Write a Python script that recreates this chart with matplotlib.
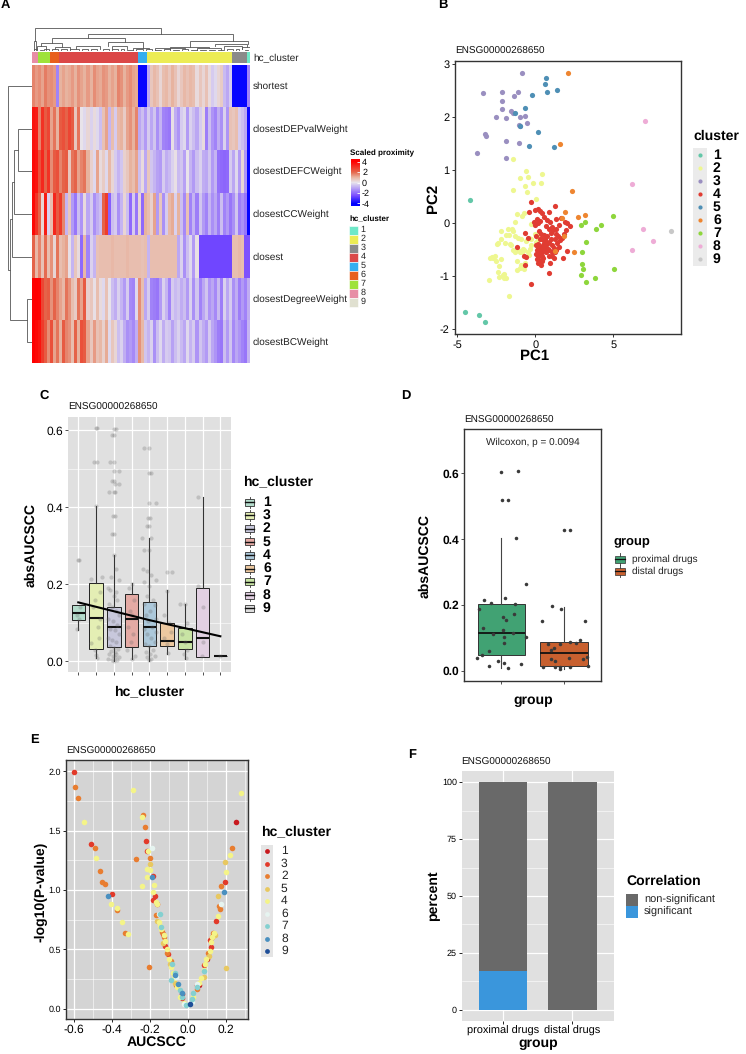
import numpy as np
import matplotlib
matplotlib.use("Agg")
import matplotlib.pyplot as plt
from matplotlib.colors import LinearSegmentedColormap, ListedColormap, Normalize
from matplotlib.cm import ScalarMappable
from matplotlib.patches import Rectangle

plt.rcParams['font.family'] = ['Liberation Sans', 'DejaVu Sans']
plt.rcParams['axes.unicode_minus'] = False
plt.rcParams['text.hinting'] = 'no_hinting'
plt.rcParams['text.hinting_factor'] = 1

W, H = 746, 1054
GENE = "ENSG00000268650"

## Panel A data

row_names = ["shortest", "closestDEPvalWeight", "closestDEFCWeight", "closestCCWeight",
             "closest", "closestDegreeWeight", "closestBCWeight"]

shortest = [1.6,1.3,1.5,1.2,1.7,1.4,1.5,1.3,-1.6,1.0,1.2,1.0,
            1.1,1.3,1.0,1.4,1.2,1.0,1.3,1.0,1.5,1.2,1.1,1.4,
            1.3,1.0,1.2,1.0,1.6,1.4,1.0,1.3,1.5,1.2,1.1,-3.9,
            -3.9,-3.9,-1.0,0.6,0.9,0.7,0.3,0.8,0.9,0.6,1.0,0.7,
            0.3,0.6,0.9,0.7,0.9,0.8,0.2,0.6,0.3,0.7,0.2,-0.4,
            -0.2,0.3,0.5,-0.7,-1.0,-0.4,-3.9,-3.9,-3.9,-3.9,-3.9,-1.6]
closest_dep = [3.6,3.4,1.6,3.0,2.2,2.6,1.2,1.8,1.0,2.2,2.4,2.0,
               2.6,2.2,0.6,1.8,0.0,-0.2,0.3,-0.3,0.2,-0.2,-0.6,0.7,
               1.2,-0.8,0.8,-0.4,0.9,1.0,0.5,1.2,1.4,1.0,1.6,-1.0,
               -0.6,-1.2,-0.4,-1.0,-0.5,-1.4,-0.8,-1.6,-1.7,-1.8,0.1,-0.9,
               -1.3,-0.4,-0.2,-1.2,-0.3,-0.6,-1.0,-0.4,0.2,-1.7,-0.6,-1.3,
               -1.6,-0.9,-1.4,-0.3,-1.3,0.7,0.6,0.8,-0.4,-0.6,-1.0,-3.8]
closest_defc = [3.8,3.6,2.4,3.2,2.0,3.0,1.5,2.2,2.4,1.6,2.0,2.2,
                0.6,1.8,2.0,1.2,1.6,1.8,1.0,0.4,-0.2,1.2,0.2,0.5,
                -0.2,0.9,0.3,-0.4,-0.8,-0.5,0.4,0.6,1.0,0.8,1.2,-0.6,
                0.2,-1.0,0.6,-0.5,-0.8,-1.1,-1.2,-0.4,-0.9,-0.7,-0.3,0.1,
                -0.7,-0.5,-1.1,0.0,-0.8,-1.2,-0.6,-0.3,-0.9,-1.0,-0.5,-1.2,
                -0.8,-1.9,-2.0,-2.1,-2.0,-0.4,-1.0,-0.2,-1.2,0.3,-1.3,-3.9]
closest_cc = [3.8,3.0,2.0,0.3,3.4,-0.3,0.8,3.2,2.2,2.8,1.6,-0.8,
              0.6,-1.2,-1.8,-0.6,-1.3,0.2,-1.0,-0.4,-1.4,-0.9,-0.6,2.0,
              2.8,-2.2,-0.6,-0.4,-1.4,-0.8,0.3,-0.6,-2.0,-0.4,-1.8,0.3,
              -2.0,1.0,0.8,0.4,1.2,-1.2,0.6,-1.4,-0.4,0.9,1.1,-0.3,
              1.0,-0.6,-1.5,0.7,-1.6,-0.8,-1.7,-0.5,-1.2,-1.6,-0.8,-1.4,
              -1.0,-1.7,-0.6,-1.6,-1.2,-1.8,-1.4,-0.5,-1.7,-1.4,-1.8,-3.9]
closest_all = [2.0,0.9,1.6,0.7,1.9,0.8,1.4,0.3,1.8,0.8,1.0,1.2,
               0.1,-0.8,0.6,0.2,-2.0,0.9,-1.6,-0.3,-0.8,0.7,0.8,0.8,
               0.8,0.8,0.9,0.8,0.8,0.8,0.8,0.9,0.8,0.8,0.8,0.8,
               0.7,0.8,-0.8,0.8,0.8,0.8,0.8,0.8,0.8,0.8,0.8,0.8,
               -1.0,-0.3,-1.4,-0.6,-0.2,-1.2,0.1,-2.6,-2.6,-2.6,-2.6,-2.6,
               -2.6,-2.6,-2.6,-2.6,-2.6,-2.6,0.8,0.8,0.9,0.8,-2.4,-2.4]
closest_degree = [4.0,4.0,3.9,2.6,2.0,2.2,1.4,2.0,1.6,1.2,0.9,1.8,
                  1.4,0.8,0.5,1.8,1.2,2.2,0.4,0.6,0.1,0.8,0.2,-0.2,
                  0.7,0.0,-0.6,-0.9,-0.3,-0.8,-1.2,-0.4,-1.5,-1.6,-0.2,1.5,
                  0.8,-1.0,-0.4,-1.6,-1.7,-1.8,-1.2,-0.3,-0.8,-1.6,-0.4,-0.7,
                  -0.5,-0.9,-0.6,-1.2,-0.3,-1.4,-0.5,-1.6,-1.0,-0.5,-1.3,-1.0,
                  -1.5,-0.7,-1.7,-0.3,-1.0,-0.4,-1.4,-0.9,-1.7,-1.2,-1.6,-0.9]
closest_bc = [4.0,3.8,3.6,2.8,2.2,1.5,2.4,1.2,1.8,1.0,2.2,1.6,
              1.4,0.8,2.0,1.0,2.4,2.2,1.2,0.6,1.3,0.7,0.9,0.4,
              1.1,-0.2,0.6,0.3,-0.6,-0.3,-0.9,-1.4,-1.2,-1.5,-0.9,1.4,
              0.9,-0.5,-0.8,-0.3,-1.4,-0.6,-0.2,-0.9,-0.4,-0.5,-1.1,-0.6,
              -0.3,-0.7,-1.0,-0.2,-0.8,-0.4,-1.3,-0.5,-0.9,-1.2,-0.4,-1.0,
              -1.3,-1.7,-1.8,-0.6,-1.2,-0.5,-1.5,-1.0,-1.3,-1.6,-1.8,-0.8]

column_cluster = [8]*2 + [7]*4 + [6]*3 + [4]*26 + [5]*3 + [2]*28 + [3]*5 + [1]
annot_colors = ["#6fe8c8", "#ecec54", "#8a8a8a", "#db4848", "#35aef0",
                "#e8601c", "#9ee23a", "#e78ea5", "#e0e0d0"]

# left, right, height, height of left child, height of right child
top_links = [(0.4,42.1,72,30,52),(18.1,66,52,40,30),(6,30.2,40,25,28),(2.5,9.5,25,14,12),
             (24.5,36.2,28,14,10),(51.7,71,30,12,22),(60,70.5,22,14,12),(45,58,12,7,8),
             (0,0.8,30,0,0),(1,4,14,5,4),(7,12,12,6,7),(14,22,14,7,6),(26,31,14,6,5),
             (33,38,10,4,5),(40,50,9,4,5),(54,62,8,4,4),(63,69,14,5,6),(69,71.5,12,5,4),
             (0.2,1.2,5,0,0),(2,3,4,0,0),(3.5,5,5,0,0),(6,8,6,0,0),(9,11,7,0,0),
             (12,15,7,0,0),(16,18,6,0,0),(19,21,5,0,0),(23,25,6,0,0),(26,28,6,0,0),
             (29,30,5,0,0),(31,33,4,0,0),(34,36,5,0,0),(37,39,5,0,0),(40,42,4,0,0),
             (43,45,5,0,0),(46,48,4,0,0),(49,51,5,0,0),(52,54,4,0,0),(55,57,4,0,0),
             (58,60,4,0,0),(61,63,4,0,0),(64,66,5,0,0),(67,68,6,0,0),(70,71,4,0,0)]
left_links = [(1,2,41,0,0),(1.5,3,53,41,0),(2.25,4,60,53,0),(5,6,16,0,0),
              (3.125,5.5,64,60,16),(0,4.31,70,0,64)]

## Panel B data

b_colors = ["#63c7a8", "#eef790", "#9a8fc0", "#e03c32", "#4e8fb5",
            "#ee8530", "#8ed63c", "#eeacd6", "#c8c8c8"]
pc_1 = [(-4.2,0.43),(-4.5,-1.67),(-3.6,-1.74),(-3.2,-1.86)]
pc_2 = [(-1.4,1.22),(-0.6,0.98),(-1.0,0.85),(-0.5,0.87),(0.45,0.92),(-0.65,0.7),(-0.15,0.76),
        (0.37,0.75),(-1.45,0.62),(-0.55,0.59),(0.02,0.45),(-0.85,0.14),(-1.2,0.17),(-0.7,0.2),
        (-0.3,-0.02),(-1.3,0.03),(-2.2,-0.15),(-1.5,-0.1),(-1.4,-0.14),(-1.7,-0.22),(-2.4,-0.38),
        (-2.2,-0.3),(-1.9,-0.22),(-1.3,-0.25),(-1.1,-0.28),(-0.9,-0.3),(-0.6,-0.33),(-0.4,-0.28),
        (-2.7,-0.65),(-2.6,-0.62),(-1.6,-0.4),(-1.4,-0.5),(-1.1,-0.5),(-0.8,-0.48),(-0.5,-0.55),
        (-0.35,-0.48),(-2.95,-1.08),(-2.75,-0.64),(-2.3,-0.8),(-2.2,-0.68),(-1.3,-0.55),(-1.0,-0.55),
        (-0.7,-0.5),(-0.4,-0.6),(-2.5,-0.72),(-2.4,-0.92),(-1.2,-0.72),(-0.9,-0.78),(-0.65,-0.75),
        (-2.0,-0.95),(-2.1,-0.98),(-2.3,-1.02),(-1.9,-1.04),(-1.2,-0.88),(-1.0,-0.85),(-0.7,-0.87),
        (-2.0,-1.04),(-2.9,-0.65),(-1.7,-1.37),(0.1,-0.22),(-0.3,-0.3),(-0.05,-0.2),(0.2,-0.3),
        (-2.45,-0.4),(-1.95,-0.38),(-1.75,-0.1),(-1.55,-0.42),(-0.85,-0.55),(0.05,-0.35),(-0.25,-0.42)]
pc_3 = [(-0.88,2.84),(-3.35,2.45),(-2.12,2.48),(-1.39,2.40),(-1.11,2.47),(-2.16,2.30),(-2.12,2.16),
        (-2.52,2.0),(-1.90,1.98),(-1.54,2.11),(-1.41,2.08),(-1.0,2.0),(-0.68,2.03),(-1.07,1.85),
        (-0.98,1.84),(-0.51,1.89),(-3.23,1.68),(-3.14,1.64),(-1.86,1.55),(-1.03,1.52),(-3.76,1.33),
        (-1.88,1.23)]
pc_4 = [(-0.25,0.4),(0.0,0.25),(0.15,0.26),(0.3,0.23),(0.45,0.2),(-0.4,0.21),(0.85,0.21),(1.25,0.33),
        (0.75,0.06),(0.95,0.02),(1.3,0.07),(0.1,0.07),(-0.1,0.03),(-0.05,-0.03),(0.2,0.0),(1.65,0.1),
        (1.9,0.03),(2.05,0.0),(2.25,-0.05),(0.7,-0.05),(1.05,-0.08),(1.35,-0.1),(1.55,-0.03),(1.95,-0.12),
        (-0.65,-0.18),(-0.45,-0.27),(0.25,-0.15),(0.35,-0.2),(0.55,-0.22),(0.75,-0.25),(1.0,-0.18),
        (1.3,-0.2),(1.45,-0.25),(1.7,-0.27),(1.85,-0.2),(0.05,-0.25),(0.3,-0.3),(0.45,-0.3),(0.65,-0.33),
        (0.85,-0.36),(1.25,-0.3),(1.6,-0.32),(-1.15,-0.45),(0.05,-0.42),(0.2,-0.4),(0.35,-0.44),(0.5,-0.42),
        (0.65,-0.45),(0.8,-0.48),(1.05,-0.42),(1.2,-0.47),(1.35,-0.5),(1.55,-0.45),(2.0,-0.53),(0.1,-0.5),
        (0.25,-0.52),(0.45,-0.55),(0.7,-0.55),(1.1,-0.55),(1.25,-0.55),(0.15,-0.62),(0.3,-0.6),(0.5,-0.65),
        (0.85,-0.62),(1.2,-0.65),(1.8,-0.65),(0.1,-0.67),(0.25,-0.7),(0.4,-0.72),(-0.6,-0.64),(-0.7,-0.62),
        (0.2,-0.76),(0.35,-0.78),(0.95,-0.76),(-0.65,-0.78),(0.85,-0.93),(-0.28,-1.14),(0.9,-0.5),(1.0,-0.3),
        (0.35,-0.5),(0.55,-0.48),(0.6,-0.3),(0.2,-0.58),(0.4,-0.62),(0.55,-0.38),(0.15,-0.45),(0.75,-0.4),
        (1.15,-0.12),(0.85,-0.1),(0.55,0.12),(0.3,0.05),(1.4,-0.38),(1.1,-0.62),(0.05,-0.58)]
pc_5 = [(0.66,2.74),(0.6,2.62),(0.73,2.47),(1.41,2.52),(-0.24,2.42),(-0.64,2.17),(0.19,1.73),
        (-0.43,1.45),(1.22,1.44),(-1.3,2.07),(-1.0,1.84)]
pc_6 = [(2.07,2.83),(1.6,1.49),(2.37,0.6),(1.9,0.21),(2.73,0.11),(3.18,0.16),(1.69,0.09),
        (1.86,-0.24),(2.5,-0.54),(1.26,-0.52)]
pc_7 = [(4.98,0.14),(3.2,0.02),(2.93,-0.03),(4.21,-0.04),(3.89,-0.10),(3.23,-0.36),(2.97,-0.55),
        (3.01,-0.77),(3.03,-0.87),(5.02,-0.86),(2.95,-0.97),(3.8,-1.04),(3.23,-1.10)]
pc_8 = [(7.01,1.93),(6.22,0.74),(6.9,-0.1),(7.54,-0.34),(6.2,-0.5)]
pc_9 = [(8.68,-0.14)]
pc_all = [pc_1, pc_2, pc_3, pc_4, pc_5, pc_6, pc_7, pc_8, pc_9]

## Panel C data

c_labels = ["1", "3", "2", "5", "4", "6", "7", "8", "9"]
c_fill = ["#b4dccc", "#e4eeb4", "#c8c8dc", "#e4aaa4", "#acc8da",
          "#ecc8a0", "#c8e4a4", "#e2d0e2", "#dcdcdc"]
c_q1 = [0.106, 0.031, 0.036, 0.038, 0.039, 0.040, 0.032, 0.012, 0.014]
c_med = [0.126, 0.113, 0.089, 0.111, 0.088, 0.052, 0.051, 0.061, 0.014]
c_q3 = [0.146, 0.204, 0.140, 0.174, 0.155, 0.100, 0.086, 0.190, 0.014]
c_low = [0.081, 0.008, 0.001, 0.005, 0.002, 0.020, 0.006, 0.012, 0.014]
c_high = [0.146, 0.404, 0.276, 0.203, 0.319, 0.184, 0.150, 0.426, 0.014]
trend_x = [1, 5, 9]
trend_y = [0.153, 0.107, 0.065]
c_points = [(1.0,0.263),(1.06,0.263),(0.94,0.083),(1.1,0.14),(0.95,0.12),(1.05,0.11),
            (2,0.605),(2.06,0.605),(1.9,0.517),(2.03,0.517),(2.0,0.404),(1.7,0.215),(2.35,0.218),
            (2.2,0.18),(1.95,0.16),(2.2,0.11),(2.18,0.06),(1.73,0.047),(2.0,0.016),(2.05,0.008),
            (1.85,0.14),(2.1,0.09),(1.95,0.03),
            (3,0.603),(3.1,0.603),(2.9,0.588),(3.03,0.588),(2.8,0.517),(3.03,0.517),(3.03,0.494),(3.3,0.494),
            (2.9,0.467),(3.0,0.467),(3.08,0.46),(3.28,0.46),(2.75,0.44),(3.0,0.44),(3.04,0.44),
            (2.98,0.378),(3.08,0.378),(2.88,0.33),(3.02,0.33),(3.0,0.275),(3.1,0.24),(2.85,0.22),(3.3,0.21),
            (2.65,0.19),(2.8,0.185),(3.15,0.18),(3.0,0.17),(3.2,0.16),(2.75,0.15),(2.9,0.14),(3.1,0.13),
            (3.3,0.12),(2.7,0.11),(2.95,0.105),(3.18,0.095),(2.8,0.085),(3.05,0.08),(3.28,0.07),(2.68,0.06),
            (2.9,0.055),(3.12,0.05),(2.78,0.04),(3.0,0.035),(3.22,0.032),(2.85,0.028),(3.05,0.025),(3.15,0.02),
            (2.72,0.018),(2.95,0.015),(3.08,0.012),(3.28,0.01),(2.65,0.006),(2.88,0.004),(3.0,0.002),(3.18,0.003),
            (4,0.2),(3.85,0.19),(4.12,0.16),(3.9,0.13),(4.05,0.12),(3.8,0.09),(4.1,0.07),(3.95,0.05),(3.75,0.03),
            (4.2,0.015),(4.0,0.005),
            (4.72,0.553),(5,0.553),(4.98,0.49),(5.1,0.49),(5,0.41),(5.38,0.41),(4.9,0.371),(5.04,0.371),
            (4.85,0.352),(5,0.352),(4.6,0.319),(5.08,0.319),(4.72,0.289),(5.0,0.289),(4.65,0.24),(4.85,0.235),
            (5.1,0.225),(5.4,0.21),(4.7,0.205),(5.0,0.195),(4.85,0.17),(5.2,0.16),(4.7,0.15),(5.3,0.145),
            (5.05,0.13),(4.8,0.12),(5.35,0.11),(4.95,0.105),(5.15,0.09),(4.68,0.085),(5.4,0.075),(4.85,0.07),
            (5.1,0.06),(5.3,0.05),(4.75,0.045),(4.98,0.04),(5.22,0.03),(4.8,0.025),(5.05,0.02),(5.3,0.015),
            (4.88,0.01),(5.12,0.006),(5.0,0.003),
            (6,0.232),(6.28,0.232),(6.0,0.183),(5.85,0.12),(6.1,0.1),(6.2,0.075),(5.8,0.06),(6.0,0.045),(6.05,0.022),
            (6.7,0.15),(7.0,0.148),(7.1,0.1),(6.85,0.07),(7.0,0.05),(7.15,0.03),(6.98,0.018),(7.05,0.008),
            (7.75,0.426),(7.75,0.195),(8.0,0.14),(8.05,0.05),(7.95,0.014),
            (9.0,0.014)]

## Panel D data

d_labels = ["proximal drugs", "distal drugs"]
d_fill = ["#41a273", "#c8602f"]
d_q1 = [0.047, 0.015]
d_med = [0.115, 0.055]
d_q3 = [0.202, 0.087]
d_low = [0.008, 0.004]
d_high = [0.404, 0.195]
d_points = [(1.0,.605),(1.26,.606),(1.005,.518),(1.10,.518),(1.24,.404),(1.39,.264),(1.06,.22),(.72,.215),
            (.83,.207),(1.22,.202),(1.21,.174),(.65,.187),(1.03,.162),(1.07,.154),(.71,.129),(1.02,.124),
            (1.18,.116),(.86,.112),(1.05,.104),(1.4,.102),(1.04,.085),(.81,.06),(.69,.048),(.62,.04),
            (.94,.031),(1.04,.025),(1.32,.022),(.8,.015),(1.1,.007),
            (2,.427),(2.1,.427),(1.81,.196),(1.96,.189),(1.65,.15),(2.34,.15),(2.25,.095),(2.09,.087),
            (2.19,.085),(1.94,.082),(1.74,.08),(1.84,.068),(1.79,.063),(2.08,.04),(2.36,.042),(2.31,.036),
            (1.8,.036),(1.85,.03),(1.67,.013),(1.86,.012),(1.94,.012),(2.1,.013),(2.39,.015),(1.93,.005)]

## Panel E data

e_order = ["1", "3", "2", "5", "4", "6", "7", "8", "9"]
e_colors = ["#c8191e", "#e23a2a", "#e87d30", "#e8c860", "#f4f488",
            "#e6f4f0", "#84d0d0", "#4a90c0", "#1f4f98"]
e_1 = [(.256,1.57),(-.03,.12),(.06,.2),(.1,.42)]
e_3 = [(-.6,1.99),(-.513,1.39),(-.22,1.413),(-.215,1.33),(-.4,.963),(.198,1.07),(-.185,.916),(-.173,.952),
       (-.162,.882),(.15,.739),(-.185,1.12),(-.13,.63),(-.12,.53),(-.105,.46),(.125,.52),(.12,.58),(.085,.37),
       (-.03,.09),(.05,.2)]
e_2 = [(-.596,1.865),(-.582,1.775),(-.236,1.63),(-.226,1.53),(-.49,1.357),(.233,1.35),(-.275,1.264),(-.2,1.27),
       (-.464,1.163),(-.455,1.067),(-.437,1.053),(.175,1.034),(-.374,.829),(-.33,.638),(-.206,.354),(-.169,.792),
       (.166,.868),(.171,.84),(-.135,.65),(-.125,.6),(-.11,.47),(-.09,.4),(-.06,.2),(.135,.64),(.105,.47),
       (.05,.17),(.13,.6)]
e_5 = [(.198,1.236),(.2,.343),(.162,.947),(-.198,1.216),(-.16,.74),(-.13,.55),(-.095,.38),(-.07,.22),(.11,.44),
       (.085,.27),(.145,.62)]
e_4 = [(-.547,1.573),(-.289,1.843),(.28,1.82),(-.485,1.267),(-.24,1.612),(-.208,1.325),(-.217,1.18),(-.213,1.112),
       (-.198,1.17),(-.243,1.037),(-.408,.882),(-.372,.845),(-.348,.733),(-.318,.632),(.222,1.298),(.2,1.155),
       (-.18,1.04),(-.185,.98),(-.17,.9),(-.16,.88),(-.15,.73),(-.145,.7),(-.14,.67),(-.125,.62),(-.118,.57),
       (-.11,.5),(-.1,.42),(-.09,.35),(-.08,.3),(-.075,.26),(-.055,.18),(-.04,.1),(.14,.64),(.13,.6),(.125,.56),
       (.115,.49),(.095,.42),(.09,.38),(.085,.33),(.07,.26),(.06,.22),(.16,.78),(-.02,.05),(.03,.1)]
e_6 = [(-.15,.8),(.175,.88),(-.19,1.35),(-.02,.04),(.02,.06),(.05,.21),(-.06,.27)]
e_7 = [(-.145,.8),(-.14,.69),(-.085,.38),(-.09,.24),(-.07,.3),(-.04,.16),(-.03,.1),(.085,.32),(.05,.18),(.03,.13),
       (.02,.08),(-.01,.03)]
e_8 = [(-.422,.947),(-.189,1.112),(.19,.986),(-.065,.28),(-.05,.21),(-.03,.13)]
e_9 = [(.01,.04)]
e_all = [e_1, e_3, e_2, e_5, e_4, e_6, e_7, e_8, e_9]

## Panel F data

f_groups = ["proximal drugs", "distal drugs"]
f_nonsig = [83, 100]
f_sig = [17, 0]
f_colors = ["#696969", "#3a96dc"]
f_legend = ["non-significant", "significant"]


fig = plt.figure(figsize=(W / 100, H / 100), dpi=100, facecolor="white")


def make_ax(x0, y0, x1, y1, **kw):
    return fig.add_axes([x0 / W, 1 - y1 / H, (x1 - x0) / W, (y1 - y0) / H], **kw)


def draw_links(ax, links, horizontal=False, color="#555555", lw=0.6):
    for a, b, h, ha, hb in links:
        if horizontal:
            ax.plot([ha, h, h, hb], [a, a, b, b], color=color, lw=lw, solid_joinstyle="miter")
        else:
            ax.plot([a, a, b, b], [ha, h, h, hb], color=color, lw=lw, solid_joinstyle="miter")


def style_gg(ax, bg="#e0e0e0"):
    ax.set_facecolor(bg)
    for s in ax.spines.values():
        s.set_visible(False)
    ax.set_axisbelow(True)
    ax.grid(True, which="major", color="white", lw=0.9)
    ax.grid(True, which="minor", color="white", lw=0.4)


def style_classic(ax):
    for s in ax.spines.values():
        s.set_visible(True)
        s.set_color("#333333")
        s.set_linewidth(1.0)


## A: heatmap

heat = np.array([shortest, closest_dep, closest_defc, closest_cc, closest_all, closest_degree, closest_bc])
lim = 4.48
stops = [(-4.48, "#0000ff"), (-4, "#0000ff"), (-2.5, "#7a4dff"), (0, "#e8e4ec"), (1, "#e8b4a0"), (2, "#e5654a"),
         (4, "#ff0000"), (4.48, "#ff0000")]
heat_cmap = LinearSegmentedColormap.from_list("prox", [((v + lim) / (2 * lim), c) for v, c in stops])

ax_heat = make_ax(32, 65, 250, 363)
ax_heat.imshow(heat, aspect="auto", cmap=heat_cmap, vmin=-lim, vmax=lim, interpolation="nearest")
ax_heat.axis("off")

ax_annot = make_ax(32, 52, 250, 63)
ax_annot.imshow([column_cluster], aspect="auto", cmap=ListedColormap(annot_colors), vmin=1, vmax=9,
                interpolation="nearest")
ax_annot.axis("off")

ax_top = make_ax(32, 27, 250, 51)
draw_links(ax_top, top_links)
ax_top.set_xlim(-0.5, 71.5)
ax_top.set_ylim(0, 74)
ax_top.axis("off")

ax_left = make_ax(7, 65, 32, 363)
draw_links(ax_left, left_links, horizontal=True)
ax_left.set_xlim(74, 0)
ax_left.set_ylim(6.5, -0.5)
ax_left.axis("off")

cax = make_ax(351, 159, 360, 206)
cb = fig.colorbar(ScalarMappable(Normalize(-lim, lim), heat_cmap), cax=cax, ticks=[-4, -2, 0, 2, 4])
cb.outline.set_visible(False)
cb.ax.tick_params(length=2.5, width=0.6, color="white", direction="in", labelsize=6.3, pad=1.5)

## B: PCA

ax_b = make_ax(455, 61, 681, 334)
for pts, col in zip(pc_all, b_colors):
    xy = np.array(pts)
    ax_b.scatter(xy[:, 0], xy[:, 1], s=14, color=col, linewidths=0)
ax_b.set_xlim(-5.15, 9.34)
ax_b.set_ylim(-2.09, 3.06)
ax_b.set_xticks([-5, 0, 5])
ax_b.set_yticks([-2, -1, 0, 1, 2, 3])
ax_b.tick_params(labelsize=8.2, length=2.5, width=0.7, pad=1.5, color="#333333")
style_classic(ax_b)

## C: box plots

ax_c = make_ax(68.3, 417, 231, 672.3)
style_gg(ax_c)
pos = np.arange(1, len(c_labels) + 1)
stats = [dict(q1=a, med=b, q3=c, whislo=d, whishi=e, fliers=[])
         for a, b, c, d, e in zip(c_q1, c_med, c_q3, c_low, c_high)]
xy = np.array(c_points)
bp = ax_c.bxp(stats, positions=pos, widths=0.76, patch_artist=True, showcaps=False, showfliers=False,
              manage_ticks=False, zorder=3,
              boxprops=dict(linewidth=0.7, edgecolor="#222222"),
              medianprops=dict(color="#111111", linewidth=1.5),
              whiskerprops=dict(color="#333333", linewidth=0.8))
for patch, col in zip(bp["boxes"], c_fill):
    patch.set_facecolor(col)
ax_c.scatter(xy[:, 0], xy[:, 1], s=9, color="#666666", alpha=0.27, linewidths=0, zorder=4)
ax_c.plot(trend_x, trend_y, color="black", lw=1.5, zorder=5)
ax_c.set_xlim(0.437, 9.6)
ax_c.set_ylim(-0.0286, 0.6345)
ax_c.set_xticks(pos)
ax_c.set_xticklabels([])
ax_c.set_yticks([0, 0.2, 0.4, 0.6])
ax_c.set_yticklabels(["0.0", "0.2", "0.4", "0.6"])
ax_c.set_yticks([0.1, 0.3, 0.5], minor=True)
ax_c.tick_params(axis="y", which="minor", length=0)
ax_c.tick_params(labelsize=8.4, length=2.2, width=0.6, pad=1.5, color="#333333")

## D: two box plots

ax_d = make_ax(464.3, 429.3, 601.3, 681)
stats = [dict(q1=a, med=b, q3=c, whislo=d, whishi=e, fliers=[])
         for a, b, c, d, e in zip(d_q1, d_med, d_q3, d_low, d_high)]
bp = ax_d.bxp(stats, positions=[1, 2], widths=0.75, patch_artist=True, showcaps=False, showfliers=False,
              manage_ticks=False,
              boxprops=dict(linewidth=0.7, edgecolor="#333333"),
              medianprops=dict(color="#111111", linewidth=1.3),
              whiskerprops=dict(color="#444444", linewidth=0.8))
for patch, col in zip(bp["boxes"], d_fill):
    patch.set_facecolor(col)
xy = np.array(d_points)
ax_d.scatter(xy[:, 0], xy[:, 1], s=6.5, color="#3a3a3a", linewidths=0, zorder=5)
ax_d.set_xlim(0.41, 2.595)
ax_d.set_ylim(-0.031, 0.734)
ax_d.set_xticks([1, 2])
ax_d.set_xticklabels([])
ax_d.set_yticks([0, 0.2, 0.4, 0.6])
ax_d.set_yticklabels(["0.0", "0.2", "0.4", "0.6"], fontweight="bold")
ax_d.tick_params(labelsize=8.4, length=2.2, width=0.6, pad=1.5, color="#333333")
style_classic(ax_d)
ax_d.text(0.5, 0.95, "Wilcoxon, p = 0.0094", transform=ax_d.transAxes, ha="center", va="center", fontsize=7.5,
          color="#222222")

## E: volcano

ax_e = make_ax(66.3, 760, 248.3, 1019.3)
style_gg(ax_e, bg="#d4d4d4")
for pts, col in zip(e_all, e_colors):
    xy = np.array(pts)
    ax_e.scatter(xy[:, 0], xy[:, 1], s=16, color=col, linewidths=0, zorder=3)
ax_e.set_xlim(-0.642, 0.32)
ax_e.set_ylim(-0.089, 2.095)
ax_e.set_xticks([-0.6, -0.4, -0.2, 0.0, 0.2])
ax_e.set_xticklabels(["-0.6", "-0.4", "-0.2", "0.0", "0.2"])
ax_e.set_yticks([0, 0.5, 1.0, 1.5, 2.0])
ax_e.set_yticks([0.25, 0.75, 1.25, 1.75], minor=True)
ax_e.set_xticks([-0.5, -0.3, -0.1, 0.1, 0.3], minor=True)
ax_e.tick_params(which="minor", length=0)
ax_e.tick_params(axis="x", labelsize=8.4, length=2.2, width=0.6, pad=1.5)
ax_e.tick_params(axis="y", labelsize=6.6, length=2.2, width=0.6, pad=1.5)
style_classic(ax_e)

## F: stacked bars

ax_f = make_ax(461.7, 770.7, 614, 1021.3)
style_gg(ax_f)
fpos = np.arange(1, len(f_groups) + 1)
ax_f.bar(fpos, f_sig, width=0.7, color=f_colors[1], zorder=3)
ax_f.bar(fpos, f_nonsig, width=0.7, bottom=f_sig, color=f_colors[0], zorder=3)
ax_f.set_xlim(0.4, 2.6)
ax_f.set_ylim(-4.96, 104.96)
ax_f.set_xticks(fpos)
ax_f.set_xticklabels(f_groups)
ax_f.set_yticks([0, 25, 50, 75, 100])
ax_f.set_yticks([12.5, 37.5, 62.5, 87.5], minor=True)
ax_f.tick_params(which="minor", length=0)
ax_f.tick_params(axis="x", labelsize=7.9, length=2, width=0.6, pad=1.5)
ax_f.tick_params(axis="y", labelsize=6.3, length=2, width=0.6, pad=1.5)

## text and legends, placed in figure pixels

ov = fig.add_axes([0, 0, 1, 1], facecolor="none", zorder=20)
ov.set_xlim(0, W)
ov.set_ylim(H, 0)
ov.axis("off")


def txt(x, y, s, size=7, bold=False, ha="left", rot=0, color="black"):
    ov.text(x, y, s, fontsize=size, fontweight="bold" if bold else "normal", ha=ha, va="center",
            rotation=rot, color=color)


for lab, x, y in [("A", 1, 5), ("B", 438, 5), ("C", 39, 396), ("D", 401, 396), ("E", 30, 740), ("F", 408, 755)]:
    txt(x, y, lab, 9, True)

for x, y in [(455, 51), (68, 407), (464, 420), (66, 751), (461, 762)]:
    txt(x, y, GENE, 7.1, color="#111111")

# panel A
txt(253, 58, "hc_cluster", 6.9, color="#222222")
for i, name in enumerate(row_names):
    txt(253, 86.5 + i * 42.6, name, 6.9, color="#222222")
txt(350.5, 153.5, "Scaled proximity", 5.7, True)
txt(349, 219, "hc_cluster", 5.7, True)
for i, col in enumerate(annot_colors):
    ov.add_patch(Rectangle((349, 225.5 + i * 9), 8.5, 9, facecolor=col, edgecolor="white", lw=0.4))
    txt(360.5, 230 + i * 9, str(i + 1), 6.2, color="#222222")

# panel B
txt(535, 356, "PC1", 10.5, True, ha="center")
txt(433, 198, "PC2", 10.5, True, ha="center", rot=90)
txt(693, 136, "cluster", 9.8, True)
ov.add_patch(Rectangle((693.3, 148), 13.7, 118, facecolor="#ebebeb", edgecolor="none"))
for i, col in enumerate(b_colors):
    ov.scatter([700], [155 + i * 13], s=9, color=col, linewidths=0)
    txt(713, 155 + i * 13, str(i + 1), 10, True)

# panel C
txt(31, 545, "absAUCSCC", 10, True, ha="center", rot=90)
txt(149, 692, "hc_cluster", 10.2, True, ha="center")
txt(243, 482, "hc_cluster", 10.2, True)
for i, (lab, col) in enumerate(zip(c_labels, c_fill)):
    y = 502 + i * 13.3
    if lab != "9":
        ov.plot([249.5, 249.5], [y - 5.5, y + 5.5], color="#333333", lw=0.6)
    ov.add_patch(Rectangle((245, y - 3.5), 9, 7, facecolor=col, edgecolor="#333333", lw=0.6, zorder=3))
    ov.plot([245, 254], [y, y], color="#111111", lw=1, zorder=4)
    txt(263, y, lab, 10.2, True)

# panel D
txt(425, 556, "absAUCSCC", 10, True, ha="center", rot=90)
txt(533, 700, "group", 10, True, ha="center")
txt(613, 541, "group", 9.2, True)
for i, (lab, col) in enumerate(zip(d_labels, d_fill)):
    y = 559 + i * 12
    ov.plot([619.5, 619.5], [y - 6, y + 6], color="#333333", lw=0.6)
    ov.add_patch(Rectangle((614.5, y - 3.5), 10, 7, facecolor=col, edgecolor="#333333", lw=0.5, zorder=3))
    ov.plot([614.5, 624.5], [y, y], color="#111111", lw=0.9, zorder=4)
    txt(632, y, lab, 7.2, color="#222222")

# panel E
txt(41, 892, "-log10(P-value)", 9.8, True, ha="center", rot=90)
txt(157, 1042, "AUCSCC", 10.2, True, ha="center")
txt(261, 832, "hc_cluster", 10.2, True)
ov.add_patch(Rectangle((261, 845), 12, 112, facecolor="#e4e4e4", edgecolor="none"))
for i, (lab, col) in enumerate(zip(e_order, e_colors)):
    ov.scatter([267], [851 + i * 12.5], s=12, color=col, linewidths=0)
    txt(281, 851 + i * 12.5, lab, 8.3, color="#222222")

# panel F
txt(434, 896, "percent", 9.8, True, ha="center", rot=90)
txt(538, 1043, "group", 9.8, True, ha="center")
txt(626, 881, "Correlation", 10, True)
for i, (lab, col) in enumerate(zip(f_legend, f_colors)):
    ov.add_patch(Rectangle((626, 894 + i * 12.2), 11.5, 11.5, facecolor=col, edgecolor="none"))
    txt(644, 900 + i * 12, lab, 7.6, color="#222222")

fig.savefig("out.png", dpi=100)
